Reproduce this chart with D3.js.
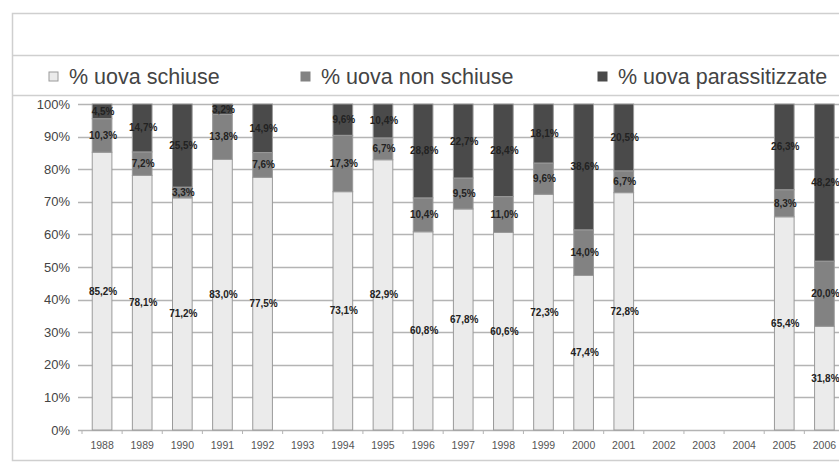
<!DOCTYPE html>
<html>
<head>
<meta charset="utf-8">
<script src="https://cdn.jsdelivr.net/npm/d3@7"></script>
<style>
  body { margin: 0; background: #fff; }
  svg { display: block; font-family: "Liberation Sans", Arial, sans-serif; }
</style>
</head>
<body>
<div id="chart"></div>
<script>
// years on the x axis (gaps have no data)
const years = ["1988","1989","1990","1991","1992","1993","1994","1995","1996","1997",
               "1998","1999","2000","2001","2002","2003","2004","2005","2006"];

// % uova schiuse / non schiuse / parassitizzate (null = no data)
const schiuse        = [85.2, 78.1, 71.2, 83.0, 77.5, null, 73.1, 82.9, 60.8, 67.8, 60.6, 72.3, 47.4, 72.8, null, null, null, 65.4, 31.8];
const nonSchiuse     = [10.3,  7.2,  3.3, 13.8,  7.6, null, 17.3,  6.7, 10.4,  9.5, 11.0,  9.6, 14.0,  6.7, null, null, null,  8.3, 20.0];
const parassitizzate = [ 4.5, 14.7, 25.5,  3.2, 14.9, null,  9.6, 10.4, 28.8, 22.7, 28.4, 18.1, 38.6, 20.5, null, null, null, 26.3, 48.2];

const seriesNames = ["% uova schiuse", "% uova non schiuse", "% uova parassitizzate"];
const yTicks = [0, 10, 20, 30, 40, 50, 60, 70, 80, 90, 100];

const keys = ["schiuse", "nonSchiuse", "parassitizzate"];
const colors = { schiuse: "#ebebeb", nonSchiuse: "#828282", parassitizzate: "#4a4a4a" };

const rows = years.map((y, i) => ({
  year: y,
  schiuse: schiuse[i],
  nonSchiuse: nonSchiuse[i],
  parassitizzate: parassitizzate[i],
  has: schiuse[i] != null
}));

const width = 839, height = 467;
const plotLeft = 82, step = 40.13;

const svg = d3.select("#chart").append("svg")
    .attr("width", width)
    .attr("height", height);

// frame lines
svg.append("rect")
    .attr("x", 12.5).attr("y", 13.5)
    .attr("width", 860).attr("height", 447)
    .attr("fill", "none").attr("stroke", "#cfcfcf").attr("stroke-width", 1.5);
[55.5, 95.5].forEach(yy => svg.append("line")
    .attr("x1", 12).attr("x2", width).attr("y1", yy).attr("y2", yy)
    .attr("stroke", "#cfcfcf").attr("stroke-width", 1.5));

const x = d3.scaleBand()
    .domain(years)
    .range([plotLeft, plotLeft + years.length * step])
    .paddingInner(0.51)
    .paddingOuter(0.255);

const y = d3.scaleLinear()
    .domain([0, 100])
    .range([430, 104]);

// gridlines
svg.append("g")
  .selectAll("line")
  .data(yTicks)
  .join("line")
    .attr("x1", plotLeft - 4)
    .attr("x2", width)
    .attr("y1", d => Math.round(y(d)) + 0.5)
    .attr("y2", d => Math.round(y(d)) + 0.5)
    .attr("stroke", "#b4b4b4")
    .attr("stroke-width", 1.5);

// y labels
svg.append("g")
    .attr("font-size", 13)
    .attr("fill", "#444")
    .attr("text-anchor", "end")
  .selectAll("text")
  .data(yTicks)
  .join("text")
    .attr("x", 70)
    .attr("y", d => y(d))
    .attr("dy", "0.35em")
    .text(d => d + "%");

// x category ticks
svg.append("g")
  .selectAll("line")
  .data(d3.range(years.length + 1))
  .join("line")
    .attr("x1", i => plotLeft + i * step)
    .attr("x2", i => plotLeft + i * step)
    .attr("y1", 430).attr("y2", 434)
    .attr("stroke", "#b4b4b4");

// x labels
svg.append("g")
    .attr("font-size", 10.5)
    .attr("fill", "#555")
    .attr("text-anchor", "middle")
  .selectAll("text")
  .data(years)
  .join("text")
    .attr("x", d => x(d) + x.bandwidth() / 2)
    .attr("y", 449)
    .text(d => d);

// stacked bars
const stacked = d3.stack().keys(keys)(rows.filter(d => d.has));

const layer = svg.append("g")
  .selectAll("g")
  .data(stacked)
  .join("g")
    .attr("fill", d => colors[d.key]);

layer.selectAll("rect")
  .data(d => d)
  .join("rect")
    .attr("x", d => x(d.data.year))
    .attr("width", x.bandwidth())
    .attr("y", d => y(d[1]))
    .attr("height", d => y(d[0]) - y(d[1]))
    .attr("stroke", "#9a9a9a")
    .attr("stroke-width", 1);

// data labels centred in each segment
const fmt = v => v.toFixed(1).replace(".", ",") + "%";
layer.selectAll("text")
  .data(d => d.map(s => ({ s, key: d.key })))
  .join("text")
    .attr("x", d => x(d.s.data.year) + x.bandwidth() / 2 + 1)
    .attr("y", d => y((d.s[0] + d.s[1]) / 2))
    .attr("dy", "0.35em")
    .attr("text-anchor", "middle")
    .attr("font-size", 10)
    .attr("font-weight", "bold")
    .attr("fill", "#222")
    .text(d => fmt(d.s[1] - d.s[0]));

// legend
const legendX = [49, 301, 598];
const legendColors = [colors.schiuse, colors.nonSchiuse, colors.parassitizzate];
const legend = svg.append("g")
  .selectAll("g")
  .data(seriesNames)
  .join("g")
    .attr("transform", (d, i) => `translate(${legendX[i]},0)`);

legend.append("rect")
    .attr("x", 0).attr("y", 72)
    .attr("width", 9).attr("height", 9)
    .attr("fill", (d, i) => legendColors[i])
    .attr("stroke", (d, i) => i === 0 ? "#9a9a9a" : legendColors[i]);

legend.append("text")
    .attr("x", 20)
    .attr("y", 84)
    .attr("font-size", 21.5)
    .attr("fill", "#444")
    .text(d => d);
</script>
</body>
</html>
